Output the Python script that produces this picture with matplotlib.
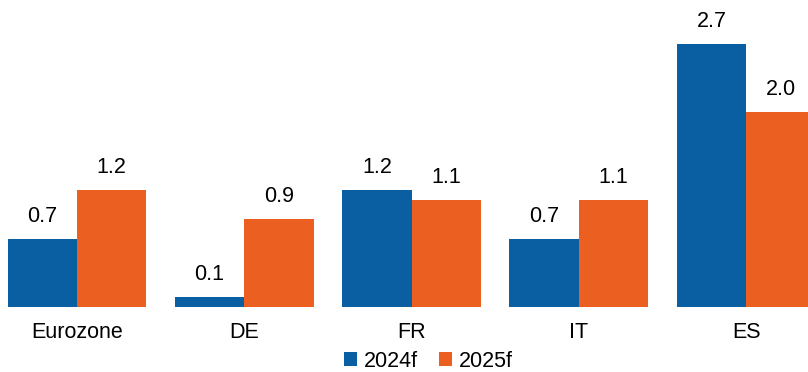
import matplotlib.pyplot as plt
import numpy as np

plt.rcParams['font.family'] = ['Liberation Sans', 'DejaVu Sans']

regions = ["Eurozone", "DE", "FR", "IT", "ES"]
growth_2024 = [0.7, 0.1, 1.2, 0.7, 2.7]
growth_2025 = [1.2, 0.9, 1.1, 1.1, 2.0]
series_names = ["2024f", "2025f"]

blue = "#0A5EA2"
orange = "#EB6020"

fig = plt.figure(figsize=(8.08, 3.72), dpi=100)
ax = fig.add_axes([0, 65 / 372, 1, 307 / 372])

x = np.arange(len(regions))
w = 0.415
b1 = ax.bar(x - w / 2, growth_2024, w, color=blue, label=series_names[0])
b2 = ax.bar(x + w / 2, growth_2025, w, color=orange, label=series_names[1])

fs = 15.5
for bars in (b1, b2):
    for rect in bars:
        h = rect.get_height()
        ax.annotate(f"{h:.1f}", (rect.get_x() + rect.get_width() / 2, h),
                    xytext=(0, 8.5), textcoords="offset points",
                    ha="center", va="bottom", fontsize=fs)

ax.set_xlim(-0.46, 4.37)
ax.set_ylim(0, 3.15)
ax.set_xticks(x)
ax.set_xticklabels(regions, fontsize=fs)
ax.tick_params(axis="x", length=0, pad=11)
ax.set_yticks([])
for s in ax.spines.values():
    s.set_visible(False)

ax.legend(loc="upper center", bbox_to_anchor=(0.53, -0.135), ncol=2,
          frameon=False, fontsize=fs, handlelength=0.6, handleheight=0.6,
          handletextpad=0.3, columnspacing=1.0, borderaxespad=0,
          borderpad=0.1)

fig.savefig("out.png", dpi=100)
